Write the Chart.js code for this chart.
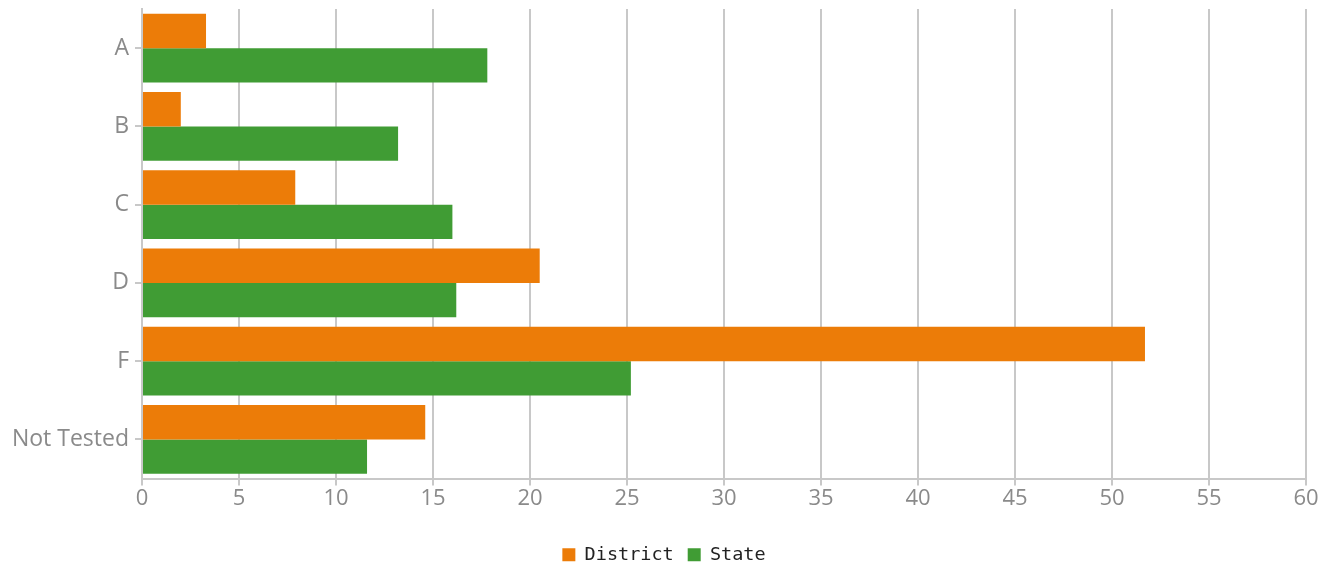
<!DOCTYPE html>
<html>
<head>
<meta charset="utf-8">
<script src="https://cdn.jsdelivr.net/npm/chart.js"></script>
<style>
  html, body { margin: 0; padding: 0; background: #fff; }
  #wrap { width: 1338px; height: 565px; }
</style>
</head>
<body>
<div id="wrap"><canvas id="grades-chart"></canvas></div>
<script>
// grade distribution, district vs state (percent)
const grades = ["A", "B", "C", "D", "F", "Not Tested"];
const districtPct = [3.3, 2.0, 7.9, 20.5, 51.7, 14.6];
const statePct = [17.8, 13.2, 16.0, 16.2, 25.2, 11.6];
const xTicksMax = 60;
const xTicksStep = 5;

const gridGrey = "#c8c8c8";
const tickGrey = "#8a8a8a";

new Chart(document.getElementById("grades-chart"), {
    type: 'bar',
    data: {
      labels: grades,
      datasets: [{
          label: "District",
          backgroundColor: "#ec7c08",
          data: districtPct
        }, {
          label: "State",
          backgroundColor: "#409c34",
          data: statePct
        }]
    },
    options: {
      indexAxis: 'y',
      responsive: true,
      maintainAspectRatio: false,
      animation: false,
      layout: { padding: { top: 9, right: 10, left: 0, bottom: -9 } },
      datasets: { bar: { categoryPercentage: 0.88, barPercentage: 1.0 } },
      scales: {
        x: {
          min: 0,
          max: xTicksMax,
          ticks: {
            stepSize: xTicksStep,
            color: tickGrey,
            font: { family: "'Open Sans'", size: 22 },
            padding: 0
          },
          grid: { color: gridGrey, lineWidth: 2, tickLength: 7 },
          border: { color: gridGrey, width: 2 },
          afterFit: (scale) => {
            scale.height = 53;
            scale.paddingRight = 32;
          }
        },
        y: {
          ticks: {
            color: tickGrey,
            font: { family: "'Open Sans'", size: 23 },
            padding: 6
          },
          grid: { offset: false, drawOnChartArea: false, color: gridGrey, lineWidth: 2, tickLength: 7 },
          border: { color: gridGrey, width: 2 },
          afterFit: (scale) => {
            // labels sit mid-band, so no extra room is needed above/below
            scale.width = 142;
            scale.paddingTop = 0;
            scale.paddingBottom = 0;
          }
        }
      },
      plugins: {
        legend: {
          position: 'bottom',
          labels: {
            boxWidth: 13,
            boxHeight: 13,
            padding: 14,
            color: "#222",
            font: { family: "'DejaVu Sans Mono'", size: 18.5 }
          }
        },
        tooltip: { enabled: false }
      }
    }
});
</script>
</body>
</html>
